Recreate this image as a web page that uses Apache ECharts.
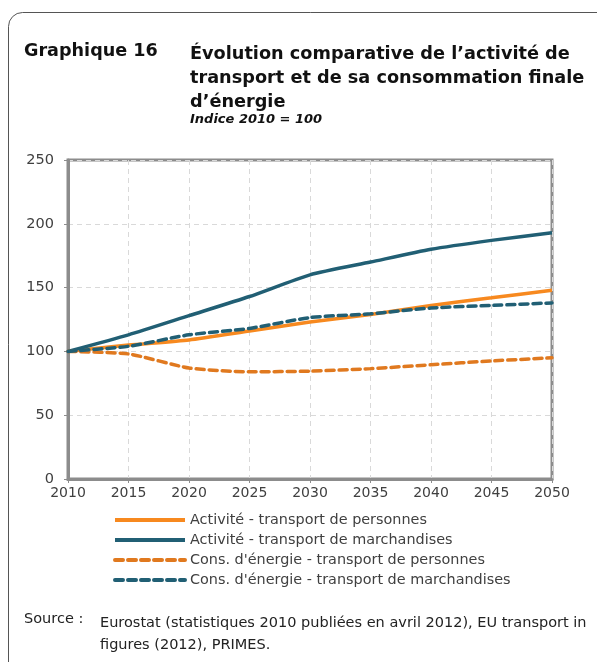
<!DOCTYPE html>
<html>
<head>
<meta charset="utf-8">
<script src="https://cdn.jsdelivr.net/npm/echarts@6/dist/echarts.min.js"></script>
<style>
  html, body { margin: 0; padding: 0; background: #fff; }
  #chart { width: 597px; height: 662px; }
</style>
</head>
<body>
<div id="chart"></div>
<script>
const years = ['2010', '2015', '2020', '2025', '2030', '2035', '2040', '2045', '2050']
const activitePersonnes = [100, 105, 109, 116, 123, 129, 136, 142, 148]
const activiteMarchandises = [100, 113, 128, 143, 160, 170, 180, 187, 193]
const energiePersonnes = [100, 98, 87, 84, 84.5, 86.5, 89.5, 92.5, 95]
const energieMarchandises = [100, 104, 113, 118, 126.5, 129.5, 134, 136, 138]

const font = 'DejaVu Sans'
const gray = '#8c8c8c'
const orange = '#f7891f'
const orangeDark = '#e0791f'
const blue = '#215f74'

const chart = echarts.init(document.getElementById('chart'))

const option = {
  backgroundColor: '#fff',
  animation: false,
  textStyle: { fontFamily: font },
  graphic: [
    {
      type: 'rect',
      shape: { x: 8.5, y: 12.5, width: 620, height: 680, r: 14 },
      style: { fill: 'none', stroke: '#555', lineWidth: 1 },
      silent: true
    },
    {
      type: 'text',
      left: 24, top: 42,
      style: { text: 'Graphique 16', font: 'bold 17.6px "DejaVu Sans"', fill: '#111' }
    },
    {
      type: 'text',
      left: 190, top: 42,
      style: {
        text: 'Évolution comparative de l’activité de\ntransport et de sa consommation finale\nd’énergie',
        font: 'bold 17.7px "DejaVu Sans"', lineHeight: 24, fill: '#111'
      }
    },
    {
      type: 'text',
      left: 190, top: 113,
      style: { text: 'Indice 2010 = 100', font: 'italic bold 13px "DejaVu Sans"', fill: '#111' }
    },
    {
      type: 'text',
      left: 24, top: 612,
      style: { text: 'Source :', font: '14.5px "DejaVu Sans"', fill: '#222' }
    },
    {
      type: 'text',
      left: 100, top: 612,
      style: {
        text: 'Eurostat (statistiques 2010 publiées en avril 2012), EU transport in\nfigures (2012), PRIMES.',
        font: '14.5px "DejaVu Sans"', lineHeight: 22, fill: '#222'
      }
    }
  ],
  grid: {
    left: 68, right: 45, top: 160, bottom: 183,
    show: true, borderColor: gray, borderWidth: 3
  },
  legend: {
    orient: 'vertical',
    left: 113, top: 513, padding: 0,
    itemWidth: 70, itemHeight: 14, itemGap: 6,
    itemStyle: { opacity: 0 },
    lineStyle: { width: 4 },
    textStyle: { fontSize: 14.4, color: '#404040', fontFamily: font },
    data: [
      'Activité - transport de personnes',
      'Activité - transport de marchandises',
      "Cons. d'énergie - transport de personnes",
      "Cons. d'énergie - transport de marchandises"
    ]
  },
  xAxis: {
    type: 'category',
    data: years,
    boundaryGap: false,
    axisLine: { lineStyle: { color: gray, width: 3 } },
    axisTick: { show: true, length: 4, lineStyle: { color: gray } },
    axisLabel: { color: '#404040', fontSize: 14, margin: 7 },
    splitLine: { show: true, lineStyle: { color: '#d9d9d9', type: [5, 4] } }
  },
  yAxis: {
    type: 'value',
    min: 0, max: 250, interval: 50,
    axisLine: { show: true, lineStyle: { color: gray, width: 3 } },
    axisTick: { show: true, length: 4, lineStyle: { color: gray } },
    axisLabel: { color: '#404040', fontSize: 14.5, margin: 14 },
    splitLine: { lineStyle: { color: '#d9d9d9', type: [5, 4] } }
  },
  series: [
    {
      name: 'Activité - transport de personnes',
      type: 'line', symbol: 'none', smooth: 0.2,
      data: activitePersonnes,
      color: orange,
      lineStyle: { color: orange, width: 3.5 }
    },
    {
      name: 'Activité - transport de marchandises',
      type: 'line', symbol: 'none', smooth: 0.2,
      data: activiteMarchandises,
      color: blue,
      lineStyle: { color: blue, width: 3.5 }
    },
    {
      name: "Cons. d'énergie - transport de personnes",
      type: 'line', symbol: 'none', smooth: 0.2,
      data: energiePersonnes,
      color: orangeDark,
      lineStyle: { color: orangeDark, width: 3.5, type: [8, 5], cap: 'round' }
    },
    {
      name: "Cons. d'énergie - transport de marchandises",
      type: 'line', symbol: 'none', smooth: 0.2,
      data: energieMarchandises,
      color: blue,
      lineStyle: { color: blue, width: 3.5, type: [8, 5], cap: 'round' }
    }
  ]
}

chart.setOption(option)
</script>
</body>
</html>
